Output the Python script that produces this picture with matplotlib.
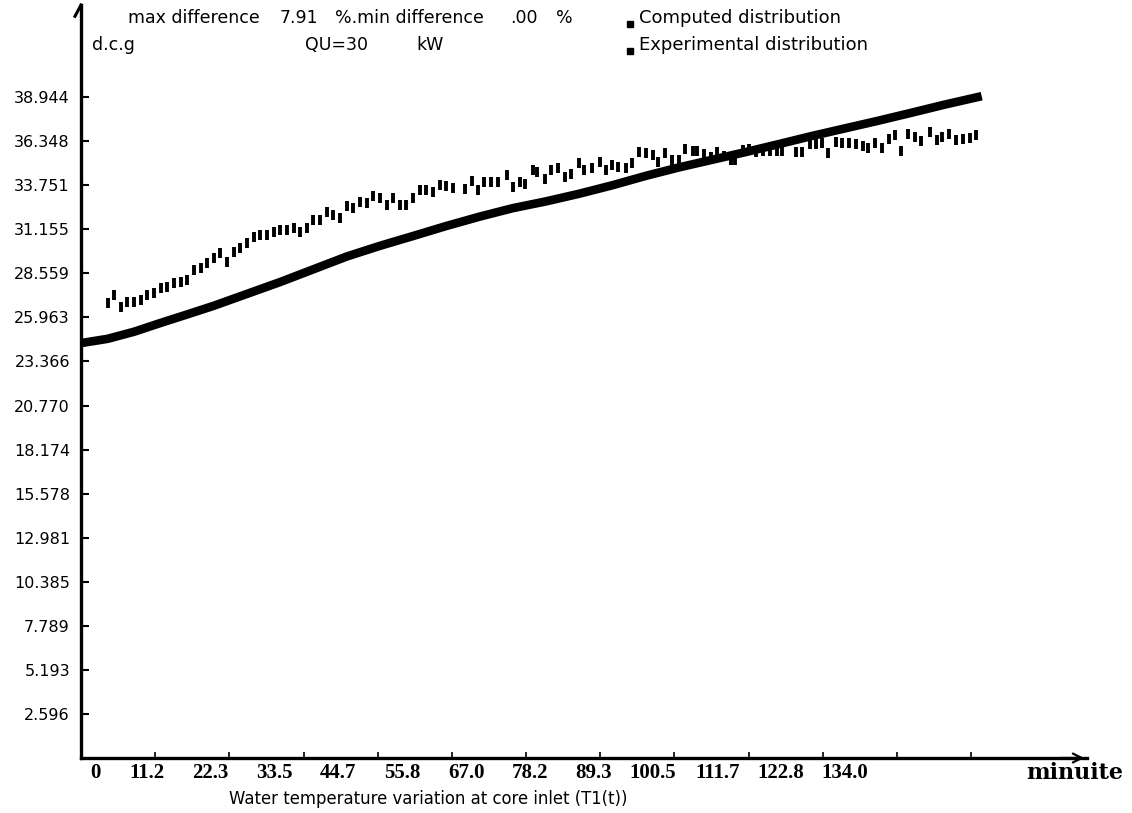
import matplotlib
matplotlib.use("Agg")
from matplotlib import pyplot as plt
from matplotlib.lines import Line2D

# computed core-inlet water temperature (minute, value)
calc_t = [0, 4, 8, 12, 16, 20, 25, 30, 35, 40, 45, 50, 55, 60, 65, 70, 75,
          80, 85, 90, 95, 100, 105, 110, 115, 120, 125, 130, 135.6]
calc_v = [24.45, 24.70, 25.12, 25.64, 26.14, 26.65, 27.35, 28.05, 28.80, 29.55,
          30.18, 30.76, 31.35, 31.90, 32.40, 32.80, 33.25, 33.75, 34.30, 34.80,
          35.25, 35.70, 36.17, 36.65, 37.10, 37.55, 38.02, 38.50, 39.00]

# measured points
exp_t = [4, 5, 6, 7, 8, 9, 10, 11, 12, 13, 14, 15, 16, 17, 18, 19, 20, 21, 22,
         23, 24, 25, 26, 27, 28, 29, 30, 31, 32, 33, 34, 35, 36, 37, 38, 39, 40,
         41, 42, 43, 44, 45, 46, 47, 48, 49, 50, 51, 52, 53, 54, 55, 56,
         57.8, 58.9, 59.7, 60.7, 61.7, 62.8, 64.1, 65.1, 66.1, 66.9, 68.0, 68.7,
         69.8, 70.8, 71.8, 72.9, 73.7, 75.0, 75.7, 77.0, 78.1, 79.1, 79.9, 80.9,
         82.0, 83.0, 84.0, 85.1, 86.1, 86.9, 87.9, 89.0, 90.0, 91.0, 92.1, 92.8,
         93.8, 94.8, 95.8, 96.8, 97.9, 98.5, 99.6, 100.6, 101.6,
         102.7, 103.7, 104.8, 105.5, 107.6, 108.6, 109.7, 110.7, 111.5, 112.5,
         113.6, 114.6, 115.6, 116.7, 117.7, 118.5, 119.5, 120.6, 121.6, 122.6,
         123.4, 124.5, 125.5, 126.5, 127.8, 128.9, 129.6, 130.7, 131.7, 132.8,
         133.8, 134.8]
exp_v = [26.79, 27.28, 26.59, 26.89, 26.89, 26.99, 27.28, 27.38, 27.67, 27.77,
         27.97, 28.07, 28.17, 28.76, 28.85, 29.15, 29.44, 29.74, 29.25, 29.84,
         30.03, 30.33, 30.72, 30.82, 30.82, 31.02, 31.11, 31.11, 31.21, 31.02,
         31.21, 31.71, 31.71, 32.20, 32.00, 31.81, 32.50, 32.40, 32.79, 32.70,
         33.09, 32.99, 32.60, 32.99, 32.60, 32.60, 32.99, 33.48, 33.48, 33.38,
         33.78, 33.68, 33.58,
         33.52, 34.03, 33.46, 33.92, 33.92, 33.92, 34.33, 33.62, 33.92, 33.82,
         34.67, 34.53, 34.13, 34.63, 34.74, 34.23, 34.43, 35.08, 34.67, 34.74,
         35.14, 34.63, 34.94, 34.84, 34.74, 35.04, 35.69, 35.65, 35.55, 35.14,
         35.65, 35.24, 35.24, 35.89, 35.75, 35.75,
         35.60, 35.40, 35.70, 35.50, 35.24, 35.24, 35.80, 35.90, 35.70,
         35.75, 35.75, 35.75, 35.75, 35.69, 35.69, 36.16, 36.16, 36.26, 35.65,
         36.32, 36.26, 36.22, 36.16, 36.06, 35.95, 36.26, 35.95, 36.46, 36.71,
         35.75, 36.77, 36.62, 36.36, 36.91, 36.42, 36.62, 36.77, 36.42, 36.46,
         36.56, 36.71]

y_ticks = [2.596, 5.193, 7.789, 10.385, 12.981, 15.578, 18.174, 20.770,
           23.366, 25.963, 28.559, 31.155, 33.751, 36.348, 38.944]
x_ticks = [0, 11.17, 22.33, 33.5, 44.67, 55.83, 67.0, 78.17, 89.33,
           100.5, 111.67, 122.83, 134.0]
x_labels = ['0', '11.2', '22.3', '33.5', '44.7', '55.8', '67.0', '78.2',
            '89.3', '100.5', '111.7', '122.8', '134.0']

W, H = 1132, 813
fig = plt.figure(figsize=(W / 100, H / 100), dpi=100)
ax_l, ax_r, ax_b, ax_t = 81, 1087, 758, 5
ax = fig.add_axes([ax_l / W, 1 - ax_b / H, (ax_r - ax_l) / W, (ax_b - ax_t) / H])

ax.plot(calc_t, calc_v, color='black', lw=6.2, solid_capstyle='butt', zorder=3)
ax.plot(exp_t, exp_v, ls='none', marker='|', ms=7, mew=2.8, color='black', zorder=4)

ax.set_xlim(0, (ax_r - ax_l) / 6.642)
ax.set_ylim(0, (ax_b - ax_t) / 16.97)

for s in ['top', 'right']:
    ax.spines[s].set_visible(False)
ax.spines['left'].set_linewidth(2.4)
ax.spines['bottom'].set_linewidth(2.4)

ax.set_yticks(y_ticks)
ax.set_yticklabels(['%.3f' % v for v in y_ticks], fontsize=11.5, family='DejaVu Sans')
ax.tick_params(axis='y', direction='in', length=6, width=1.5, pad=8)
ax.set_xticks(x_ticks)
ax.set_xticklabels([''] * len(x_ticks))
ax.tick_params(axis='x', direction='in', length=4, width=1.2)

# axis arrows
ax.annotate('', xy=(1.0, 0), xytext=(0.97, 0), xycoords='axes fraction',
            arrowprops=dict(arrowstyle='->', lw=1.6, color='black', mutation_scale=16))
ax.plot([-0.006, 0], [0.985, 1.0], transform=ax.transAxes, color='black',
        lw=2.2, clip_on=False)

# the printed x labels run on their own spacing
def px(x, y):
    return x / W, 1 - y / H

for k, lab in enumerate(x_labels):
    fig.text(*px(101 + 63.9 * k, 773), lab, ha='right', va='center',
             fontsize=15, family='Liberation Serif', weight='bold')
fig.text(*px(1026, 773), 'minuite', ha='left', va='center',
         fontsize=16, family='DejaVu Serif', weight='bold')
fig.text(*px(428, 799), 'Water temperature variation at core inlet (T1(t))',
         ha='center', va='center', fontsize=11.9, family='DejaVu Sans')

hdr = dict(fontsize=12.5, family='DejaVu Sans', va='center', ha='left')
fig.text(*px(128, 18), 'max difference', **hdr)
fig.text(*px(280, 18), '7.91', **hdr)
fig.text(*px(335, 18), '%.min difference', **hdr)
fig.text(*px(510, 18), '.00', **hdr)
fig.text(*px(556, 18), '%', **hdr)
fig.text(*px(92, 45), 'd.c.g', **hdr)
fig.text(*px(305, 45), 'QU=30', **hdr)
fig.text(*px(416, 45), 'kW', **hdr)

leg = dict(hdr, fontsize=13)
fig.text(*px(639, 18), 'Computed distribution', **leg)
fig.text(*px(639, 45), 'Experimental distribution', **leg)
for yy in (24, 51):
    fig.add_artist(Line2D([630 / W], [1 - yy / H], marker='s', ms=5, color='black',
                          transform=fig.transFigure))

fig.savefig('out.png', dpi=100)
